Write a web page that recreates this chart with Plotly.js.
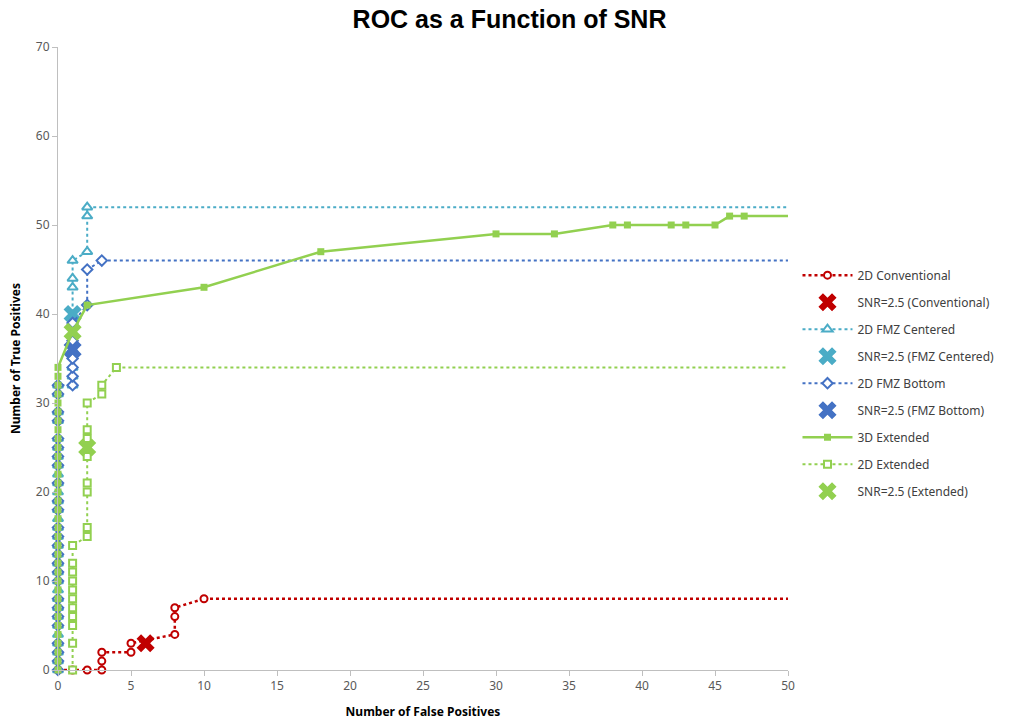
<!DOCTYPE html>
<html>
<head>
<meta charset="utf-8">
<script src="https://cdn.plot.ly/plotly-3.0.1.min.js"></script>
<style>html,body{margin:0;padding:0;background:#fff;}#chart{width:1013px;height:724px;}</style>
</head>
<body>
<div id="chart"></div>
<script>
// ---- data ----
const xMax = 50;
const convX = [0,1,2,3,3,3,5,5,8,8,8,10];
const convY = [0,0,0,0,1,2,2,3,4,6,7,8];
const convSnrX = [6];
const convSnrY = [3];

const fmzcX = [0,0,0,0,0,0,0,0,0,0,0,0,0,0,0,0,0,0,0,0,0,0,0,0,0,0,0,0,0,0,0,1,1,1,1,1,1,1,1,2,2,2];
const fmzcY = [0,1,2,3,4,5,6,7,8,9,10,11,12,13,14,15,16,17,18,19,20,21,22,23,24,25,26,28,29,31,32,32,33,34,36,39,43,44,46,47,51,52];
const fmzcSnrX = [1];
const fmzcSnrY = [40];

const fmzbX = [0,0,0,0,0,0,0,0,0,0,0,0,0,0,0,0,0,0,0,0,0,0,0,0,0,0,1,1,1,1,1,1,2,2,3];
const fmzbY = [0,1,2,3,5,6,7,8,10,11,12,13,14,15,16,18,19,21,23,24,25,26,28,29,31,32,32,33,34,35,37,39,41,45,46];
const fmzbSnrX = [1];
const fmzbSnrY = [36];

const ext3X = [0,0,0,0,0,0,0,0,0,0,0,0,0,0,0,0,0,0,0,0,0,0,0,0,0,0,0,0,0,0,0,0,0,0,0,1,2,10,18,30,34,38,39,42,43,45,46,47];
const ext3Y = [0,1,2,3,4,5,6,7,8,9,10,11,12,13,14,15,16,17,18,19,20,21,22,23,24,25,26,27,28,29,30,31,32,33,34,38,41,43,47,49,49,50,50,50,50,50,51,51];

const ext2X = [1,1,1,1,1,1,1,1,1,1,1,2,2,2,2,2,2,2,2,3,3,4];
const ext2Y = [0,3,5,6,7,8,9,10,11,12,14,15,16,20,21,24,26,27,30,31,32,34];
const extSnrX = [1,2];
const extSnrY = [38,25];

// ---- style ----
const RED = '#C00000', CYAN = '#4BACC6', BLUE = '#4472C4', GREEN = '#92D050';
const FONT = 'Noto Sans, Open Sans, sans-serif';

function lastExt(xs, ys, color, dash, width, group){
  return {x:[xs[xs.length-1], xMax], y:[ys[ys.length-1], ys[ys.length-1]], mode:'lines',
    line:{color:color, dash:dash, width:width}, showlegend:false, hoverinfo:'skip', legendgroup:group};
}
function series(name, xs, ys, color, symbol, size, dash, width, group, filled){
  return {name:name, x:xs, y:ys, mode:'lines+markers', legendgroup:group, cliponaxis:false,
    line:{color:color, dash:dash, width:width},
    marker:{symbol:symbol, size:size, color:filled?color:'#ffffff', line:{color:color, width:filled?0:2}}};
}
function snr(name, xs, ys, color, group){
  return {name:name, x:xs, y:ys, mode:'markers', legendgroup:group, cliponaxis:false,
    marker:{symbol:'x', size:16, color:color, line:{width:0}}};
}

const traces = [
  series('2D Conventional', convX, convY, RED, 'circle', 7, 'dot', 2.5, 'g1', false),
  snr('SNR=2.5 (Conventional)', convSnrX, convSnrY, RED, 'g2'),
  series('2D FMZ Centered', fmzcX, fmzcY, CYAN, 'triangle-up', 9, 'dot', 2, 'g3', false),
  snr('SNR=2.5 (FMZ Centered)', fmzcSnrX, fmzcSnrY, CYAN, 'g4'),
  series('2D FMZ Bottom', fmzbX, fmzbY, BLUE, 'diamond', 8, 'dot', 2, 'g5', false),
  snr('SNR=2.5 (FMZ Bottom)', fmzbSnrX, fmzbSnrY, BLUE, 'g6'),
  series('3D Extended', ext3X, ext3Y, GREEN, 'square', 7, 'solid', 2.5, 'g7', true),
  series('2D Extended', ext2X, ext2Y, GREEN, 'square', 7, 'dot', 2, 'g8', false),
  snr('SNR=2.5 (Extended)', extSnrX, extSnrY, GREEN, 'g9'),
  lastExt(convX, convY, RED, 'dot', 2.5, 'g1'),
  lastExt(fmzcX, fmzcY, CYAN, 'dot', 2, 'g3'),
  lastExt(fmzbX, fmzbY, BLUE, 'dot', 2, 'g5'),
  lastExt(ext3X, ext3Y, GREEN, 'solid', 2.5, 'g7'),
  lastExt(ext2X, ext2Y, GREEN, 'dot', 2, 'g8')
];
// put extension lines underneath markers
const ordered = traces.slice(9).concat(traces.slice(0,9));

const layout = {
  width:1013, height:724,
  margin:{l:58, r:225, t:47, b:54},
  paper_bgcolor:'#fff', plot_bgcolor:'#fff',
  font:{family:FONT, color:'#595959', size:12},
  title:{text:'<b>ROC as a Function of SNR</b>', x:0.503, xref:'container', xanchor:'center', y:0.974, yanchor:'middle',
    font:{family:'Liberation Sans, Arial, sans-serif', size:25, color:'#000'}},
  xaxis:{range:[0,xMax], dtick:5, tick0:0, showgrid:false, zeroline:false,
    showline:true, linecolor:'#BFBFBF', linewidth:1, ticks:'outside', ticklen:5, tickcolor:'#BFBFBF',
    tickfont:{size:12, color:'#595959'},
    title:{text:'<b>Number of False Positives</b>', font:{size:12, color:'#000'}, standoff:14}},
  yaxis:{range:[0,70], dtick:10, tick0:0, showgrid:false, zeroline:false,
    showline:true, linecolor:'#BFBFBF', linewidth:1, ticks:'outside', ticklen:5, tickcolor:'#BFBFBF',
    tickfont:{size:12, color:'#595959'},
    title:{text:'<b>Number of True Positives</b>', font:{size:12, color:'#000'}, standoff:12}},
  legend:{x:1.013, xanchor:'left', y:0.657, yanchor:'top', traceorder:'grouped', tracegroupgap:8,
    itemwidth:50, font:{size:12, color:'#404040', family:FONT}, bgcolor:'rgba(0,0,0,0)'},
  showlegend:true
};

Plotly.newPlot('chart', ordered, layout, {displayModeBar:false, staticPlot:true});
</script>
</body>
</html>
